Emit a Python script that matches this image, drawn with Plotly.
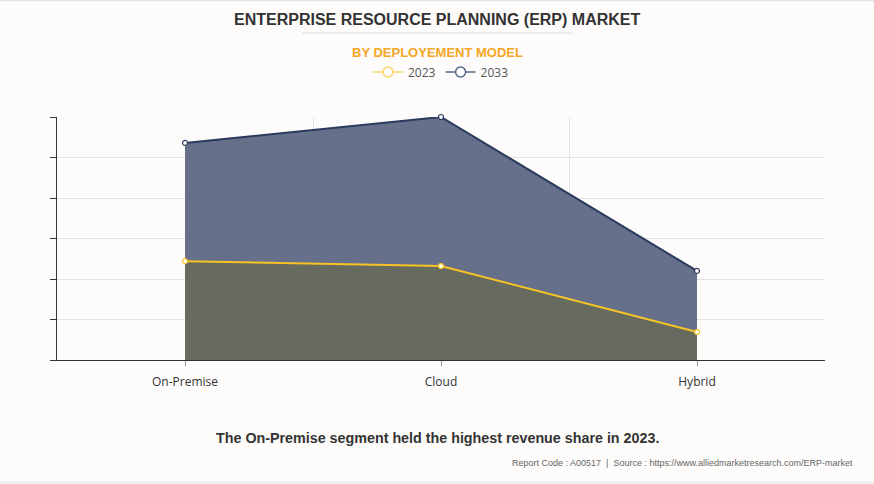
import plotly.graph_objects as go

categories = ["On-Premise", "Cloud", "Hybrid"]
values_2023 = [24.4, 23.2, 6.9]
values_2033 = [53.6, 60.0, 22.0]

xpos = list(range(len(categories)))

C33 = "#2b3a5e"
C23 = "#f7c325"

fig = go.Figure()
fig.add_trace(go.Scatter(
    x=xpos, y=values_2033, name="2033", mode="lines+markers", showlegend=False,
    line=dict(color=C33, width=2), cliponaxis=False,
    marker=dict(symbol="circle", size=5, color="white", line=dict(color=C33, width=1.2)),
    fill="tozeroy", fillcolor="#66708a",
))
fig.add_trace(go.Scatter(
    x=xpos, y=values_2023, name="2023", mode="lines+markers", showlegend=False,
    line=dict(color=C23, width=2), cliponaxis=False,
    marker=dict(symbol="circle", size=5, color="white", line=dict(color=C23, width=1.2)),
    fill="tozeroy", fillcolor="#676a5e",
))
# legend entries
for name, col in [("2023", "#fbd66a"), ("2033", "#5a6688")]:
    fig.add_trace(go.Scatter(
        x=[None], y=[None], name=name, mode="lines+markers",
        line=dict(color=col, width=1.5),
        marker=dict(symbol="circle", size=10, color="white", line=dict(color=col, width=1.5)),
    ))

fig.update_layout(
    width=874, height=484,
    paper_bgcolor="#fdfcfb", plot_bgcolor="#fdfcfb",
    margin=dict(l=57, r=49, t=117, b=124),
    showlegend=True,
    legend=dict(orientation="h", x=0.5, xanchor="center", yanchor="middle",
                font=dict(family="Open Sans, sans-serif", size=12, color="#555"),
                bgcolor="rgba(0,0,0,0)", itemwidth=30, tracegroupgap=0),
    font=dict(family="Open Sans, sans-serif", color="#333"),
)

fig.update_xaxes(
    range=[-0.5, 2.5], tickvals=xpos, ticktext=categories,
    showgrid=False, zeroline=False,
    showline=True, linecolor="#333", linewidth=1,
    ticks="outside", ticklen=5, tickcolor="#999", ticklabelstandoff=6,
    tickfont=dict(size=12, color="#333"),
    minor=dict(tick0=0.5, dtick=1, showgrid=True, gridcolor="#e3e3e3", ticklen=0),
)
fig.update_yaxes(
    range=[0, 60], dtick=10, showticklabels=False,
    showgrid=True, gridcolor="#e3e3e3", zeroline=False,
    showline=True, linecolor="#333", linewidth=1,
    ticks="outside", ticklen=6, tickcolor="#333",
)

plot_top, plot_bottom, plot_left, plot_right = 117, 360, 57, 825
ph = plot_bottom - plot_top
pw = plot_right - plot_left

def py(ypix):
    return (plot_bottom - ypix) / ph

def px(xpix):
    return (xpix - plot_left) / pw

fig.add_annotation(text="<b>ENTERPRISE RESOURCE PLANNING (ERP) MARKET</b>", xref="paper", yref="paper",
                   x=px(437), y=py(19), yanchor="middle", showarrow=False,
                   font=dict(family="Liberation Sans, Arial, sans-serif", size=16, color="#333"))
fig.add_annotation(text="<b>BY DEPLOYEMENT MODEL</b>", xref="paper", yref="paper",
                   x=px(437), y=py(52), yanchor="middle", showarrow=False,
                   font=dict(family="Liberation Sans, Arial, sans-serif", size=13, color="#f5a623"))
fig.add_annotation(text="<b>The On-Premise segment held the highest revenue share in 2023.</b>",
                   xref="paper", yref="paper", x=px(437), y=py(438), yanchor="middle", showarrow=False,
                   font=dict(family="Liberation Sans, Arial, sans-serif", size=14.3, color="#333"))
fig.add_annotation(text="Report Code : A00517  |  Source : https://www.alliedmarketresearch.com/ERP-market",
                   xref="paper", yref="paper", x=px(855), y=py(463), xanchor="right", yanchor="middle",
                   showarrow=False,
                   font=dict(family="Liberation Sans, Arial, sans-serif", size=9, color="#666"))
fig.layout.legend.y = py(72)

fig.add_shape(type="line", xref="paper", yref="paper", x0=px(302), x1=px(572), y0=py(33), y1=py(33),
              line=dict(color="#ebebeb", width=2))
fig.add_shape(type="line", xref="paper", yref="paper", x0=px(0), x1=px(874), y0=py(0.5), y1=py(0.5),
              line=dict(color="#e4e4e4", width=1.5))
fig.add_shape(type="line", xref="paper", yref="paper", x0=px(0), x1=px(874), y0=py(482.5), y1=py(482.5),
              line=dict(color="#ececec", width=2))

fig.write_html("out.html")
